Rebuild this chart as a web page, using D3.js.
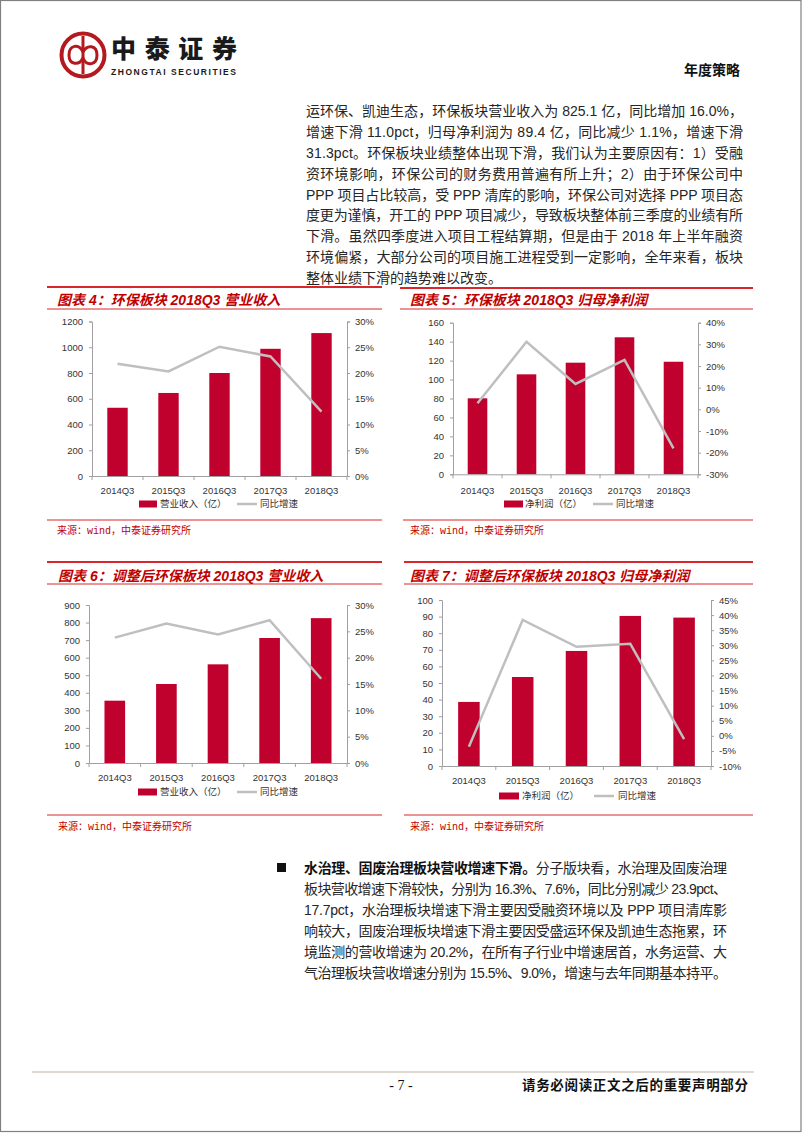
<!DOCTYPE html>
<html><head><meta charset="utf-8">
<script src="https://cdn.jsdelivr.net/npm/d3@7"></script>
<style>body{margin:0;background:#fff} svg{display:block}</style>
</head><body><svg id="page" width="802" height="1133"></svg>
<script>
// ---------- DATA ----------
const categories = ["2014Q3","2015Q3","2016Q3","2017Q3","2018Q3"];
const revenue = [530, 645, 800, 988, 1110];
const revenueYoY = [0.218, 0.203, 0.251, 0.232, 0.125];
const profit = [80.2, 105.5, 117.8, 144.6, 118.8];
const profitYoY = [0.028, 0.312, 0.117, 0.228, -0.180];
const adjRevenue = [355, 450, 562, 712, 825.1];
const adjRevenueYoY = [0.238, 0.265, 0.244, 0.271, 0.160];
const adjProfit = [38.6, 53.6, 69.3, 90.4, 89.4];
const adjProfitYoY = [-0.036, 0.384, 0.295, 0.305, -0.011];

const ticksRevenue = [0,200,400,600,800,1000,1200];
const ticksPct30 = [0,0.05,0.10,0.15,0.20,0.25,0.30];
const ticksProfit = [0,20,40,60,80,100,120,140,160];
const ticksPctB = [-0.30,-0.20,-0.10,0,0.10,0.20,0.30,0.40];
const ticksAdjRevenue = [0,100,200,300,400,500,600,700,800,900];
const ticksAdjProfit = [0,10,20,30,40,50,60,70,80,90,100];
const ticksPctD = [-0.10,-0.05,0,0.05,0.10,0.15,0.20,0.25,0.30,0.35,0.40,0.45];

const titles = ["图表 4：环保板块 2018Q3 营业收入","图表 5：环保板块 2018Q3 归母净利润",
                "图表 6：调整后环保板块 2018Q3 营业收入","图表 7：调整后环保板块 2018Q3 归母净利润"];
const legendBar = ["营业收入（亿）","净利润（亿）","营业收入（亿）","净利润（亿）"];
const legendLine = "同比增速";
const sourceText = "来源：wind，中泰证券研究所";

const para1 = [
 "运环保、凯迪生态，环保板块营业收入为 825.1 亿，同比增加 16.0%，",
 "增速下滑 11.0pct，归母净利润为 89.4 亿，同比减少 1.1%，增速下滑",
 "31.3pct。环保板块业绩整体出现下滑，我们认为主要原因有：1）受融",
 "资环境影响，环保公司的财务费用普遍有所上升；2）由于环保公司中",
 "PPP 项目占比较高，受 PPP 清库的影响，环保公司对选择 PPP 项目态",
 "度更为谨慎，开工的 PPP 项目减少，导致板块整体前三季度的业绩有所",
 "下滑。虽然四季度进入项目工程结算期，但是由于 2018 年上半年融资",
 "环境偏紧，大部分公司的项目施工进程受到一定影响，全年来看，板块",
 "整体业绩下滑的趋势难以改变。"
];
const para2Bold = "水治理、固废治理板块营收增速下滑。";
const para2 = [
 "分子版块看，水治理及固废治理",
 "板块营收增速下滑较快，分别为 16.3%、7.6%，同比分别减少 23.9pct、",
 "17.7pct，水治理板块增速下滑主要因受融资环境以及 PPP 项目清库影",
 "响较大，固废治理板块增速下滑主要因受盛运环保及凯迪生态拖累，环",
 "境监测的营收增速为 20.2%，在所有子行业中增速居首，水务运营、大",
 "气治理板块营收增速分别为 15.5%、9.0%，增速与去年同期基本持平。"
];

// ---------- STYLE ----------
const RED = "#c00000", BAR = "#c0002d", LINE = "#bfbfbf", RULE = "#d9262c", AXIS = "#a0a0a0";
const FONT = "'Liberation Sans', Arial, 'Noto Sans CJK SC', sans-serif";
const svg = d3.select("#page");

function justify(sel, target) {
  sel.each(function(){
    const w = this.getComputedTextLength();
    const n = this.textContent.length;
    if (n > 1) d3.select(this).attr("letter-spacing", (target - w) / (n - 1));
  });
}

// page frame
svg.append("rect").attr("x",0.5).attr("y",0.5).attr("width",800.5).attr("height",1131)
  .attr("fill","none").attr("stroke","#808080").attr("stroke-width",1.2);

// ---------- HEADER ----------
const logo = svg.append("g").attr("transform","translate(83,55)");
logo.append("circle").attr("r",21.5).attr("fill","none").attr("stroke","#b3191f").attr("stroke-width",4);
logo.append("line").attr("x1",0).attr("x2",0).attr("y1",-19).attr("y2",19).attr("stroke","#b3191f").attr("stroke-width",3);
logo.append("path").attr("d","M0,-3 C-4,-12 -14,-10 -14,0 C-14,10 -4,11 0,3")
  .attr("fill","none").attr("stroke","#b3191f").attr("stroke-width",3);
logo.append("path").attr("d","M0,3 C4,12 14,10 14,0 C14,-10 4,-11 0,-3")
  .attr("fill","none").attr("stroke","#b3191f").attr("stroke-width",3);
svg.append("text").attr("x",111).attr("y",58).attr("font-family","'Noto Sans CJK SC'")
  .attr("font-weight",900).attr("font-size",25).attr("fill","#1a1a1a").text("中泰证券")
  .call(justify, 126);
svg.append("text").attr("x",111).attr("y",75).attr("font-family",FONT)
  .attr("font-weight",700).attr("font-size",8.5).attr("fill","#1a1a1a").text("ZHONGTAI SECURITIES")
  .call(justify, 125);
svg.append("text").attr("x",684).attr("y",75).attr("font-family","'Noto Sans CJK SC'")
  .attr("font-weight",700).attr("font-size",14).attr("fill","#111").text("年度策略");

// ---------- PARAGRAPH 1 ----------
const p1y = d3.scaleLinear().domain([0, para1.length-1]).range([116, 283]);
para1.forEach((t,i) => {
  const el = svg.append("text").attr("x",306).attr("y",p1y(i)).attr("font-family",FONT)
    .attr("font-size",14).attr("fill","#262626").text(t);
  if (i < para1.length-1) el.call(justify, 743-306);
});

// ---------- CHARTS ----------
const charts = [
  {title:titles[0], bars:revenue, line:revenueYoY, lt:ticksRevenue, rt:ticksPct30, leg:legendBar[0],
   tx:57, lx1:47, lx2:382, topY:287, ulY:309, titleY:305,
   p:{x0:92,x1:347,y0:476,y1:321.5}, catY:491, legY:504, rx:139, rw:18, ltx:160, lnx:237, lntx:260, srcY:520, srcTY:534, sx1:47, sx2:382},
  {title:titles[1], bars:profit, line:profitYoY, lt:ticksProfit, rt:ticksPctB, leg:legendBar[1],
   tx:410, lx1:400, lx2:753, topY:288, ulY:309, titleY:305,
   p:{x0:453,x1:698,y0:474.3,y1:322.7}, catY:491, legY:504, rx:504, rw:19, ltx:525, lnx:593, lntx:616, srcY:520, srcTY:534, sx1:403, sx2:753},
  {title:titles[2], bars:adjRevenue, line:adjRevenueYoY, lt:ticksAdjRevenue, rt:ticksPct30, leg:legendBar[2],
   tx:58, lx1:47, lx2:382, topY:562, ulY:584, titleY:581,
   p:{x0:89,x1:347,y0:763,y1:605}, catY:778, legY:792, rx:138, rw:19, ltx:160, lnx:237, lntx:260, srcY:815, srcTY:830, sx1:47, sx2:382},
  {title:titles[3], bars:adjProfit, line:adjProfitYoY, lt:ticksAdjProfit, rt:ticksPctD, leg:legendBar[3],
   tx:410, lx1:404, lx2:753, topY:562, ulY:584, titleY:581,
   p:{x0:442,x1:711,y0:766,y1:600}, catY:781, legY:796, rx:499, rw:20, ltx:522, lnx:594, lntx:618, srcY:815, srcTY:830, sx1:404, sx2:753}
];

charts.forEach(c => {
  const g = svg.append("g");
  g.append("line").attr("x1",c.lx1).attr("x2",c.lx2).attr("y1",c.topY).attr("y2",c.topY).attr("stroke",RULE).attr("stroke-width",2);
  g.append("line").attr("x1",c.lx1).attr("x2",c.lx2).attr("y1",c.ulY).attr("y2",c.ulY).attr("stroke",RULE).attr("stroke-width",1);
  g.append("text").attr("x",c.tx).attr("y",c.titleY).attr("font-family",FONT).attr("font-weight",700)
    .attr("font-style","italic").attr("font-size",14).attr("fill",RED).text(c.title);

  const x = d3.scaleBand().domain(categories).range([c.p.x0, c.p.x1]).padding(0);
  const yL = d3.scaleLinear().domain(d3.extent(c.lt)).range([c.p.y0, c.p.y1]);
  const yR = d3.scaleLinear().domain(d3.extent(c.rt)).range([c.p.y0, c.p.y1]);

  const bw = x.bandwidth()*0.4;
  g.selectAll("rect.bar").data(c.bars).join("rect").attr("class","bar")
    .attr("x",(d,i)=>x(categories[i]) + x.bandwidth()/2 - bw/2)
    .attr("width",bw)
    .attr("y",d=>yL(d)).attr("height",d=>yL(0)-yL(d)).attr("fill",BAR);

  const axL = g.append("g").attr("transform",`translate(${c.p.x0},0)`)
    .call(d3.axisLeft(yL).tickValues(c.lt).tickSize(3).tickPadding(6).tickFormat(d3.format("d")));
  const axR = g.append("g").attr("transform",`translate(${c.p.x1},0)`)
    .call(d3.axisRight(yR).tickValues(c.rt).tickSize(3).tickPadding(5).tickFormat(d=>d3.format(".0f")(d*100).replace("−","-")+"%"));
  const axB = g.append("g").attr("transform",`translate(0,${yL(0)})`)
    .call(d3.axisBottom(x).tickSize(0).tickPadding(8));
  const bounds = categories.map(k=>x(k)).concat([c.p.x1]);
  g.selectAll("line.bt").data(bounds).join("line").attr("class","bt")
    .attr("x1",d=>d).attr("x2",d=>d).attr("y1",yL(0)).attr("y2",yL(0)+4).attr("stroke",AXIS);
  [axL,axR,axB].forEach(a=>{
    a.select(".domain").attr("stroke",AXIS);
    a.selectAll(".tick line").attr("stroke",AXIS);
    a.selectAll("text").attr("font-family",FONT).attr("font-size",9.5).attr("fill","#333");
  });
  axB.selectAll(".tick text").attr("dy",null).attr("y",null).attr("transform",null)
    .attr("dominant-baseline","middle").attr("y", c.catY - yL(0));

  g.append("path").datum(c.line)
    .attr("d", d3.line().x((d,i)=>x(categories[i])+x.bandwidth()/2).y(d=>yR(d)))
    .attr("fill","none").attr("stroke",LINE).attr("stroke-width",2.5);

  g.append("rect").attr("x",c.rx).attr("y",c.legY-3.5).attr("width",c.rw).attr("height",7).attr("fill",BAR);
  g.append("text").attr("x",c.ltx).attr("y",c.legY).attr("dominant-baseline","middle")
    .attr("font-family","'Noto Sans CJK SC'").attr("font-size",9.5).attr("fill","#333").text(c.leg);
  g.append("line").attr("x1",c.lnx).attr("x2",c.lnx+20).attr("y1",c.legY).attr("y2",c.legY)
    .attr("stroke",LINE).attr("stroke-width",2.5);
  g.append("text").attr("x",c.lntx).attr("y",c.legY).attr("dominant-baseline","middle")
    .attr("font-family","'Noto Sans CJK SC'").attr("font-size",9.5).attr("fill","#333").text(legendLine);

  g.append("line").attr("x1",c.sx1).attr("x2",c.sx2).attr("y1",c.srcY).attr("y2",c.srcY).attr("stroke",RULE).attr("stroke-width",1);
  g.append("text").attr("x",c.tx).attr("y",c.srcTY).attr("font-family","'Liberation Mono','Noto Sans CJK SC'")
    .attr("font-size",10).attr("fill",RED).text(sourceText);
});

// ---------- PARAGRAPH 2 ----------
svg.append("rect").attr("x",277).attr("y",863).attr("width",9).attr("height",9).attr("fill","#111");
const p2y = d3.scaleLinear().domain([0, para2.length-1]).range([873, 978]);
para2.forEach((t,i) => {
  const el = svg.append("text").attr("x",304).attr("y",p2y(i)).attr("font-family",FONT)
    .attr("font-size",14).attr("fill","#262626");
  if (i === 0) {
    el.append("tspan").attr("font-weight",700).attr("fill","#111").text(para2Bold);
    el.append("tspan").text(t);
  } else el.text(t);
  el.call(justify, 727-304);
});

// ---------- FOOTER ----------
svg.append("line").attr("x1",32).attr("x2",754).attr("y1",1072).attr("y2",1072).attr("stroke","#d6cdc2").attr("stroke-width",1.5);
svg.append("text").attr("x",401).attr("y",1090).attr("text-anchor","middle").attr("font-family","'Liberation Serif', serif")
  .attr("font-size",14).attr("fill","#111").text("- 7 -");
svg.append("text").attr("x",522).attr("y",1090).attr("font-family","'Noto Sans CJK SC'").attr("font-weight",700)
  .attr("font-size",13.5).attr("fill","#111").text("请务必阅读正文之后的重要声明部分").call(justify, 748-522);
</script>
</body></html>
